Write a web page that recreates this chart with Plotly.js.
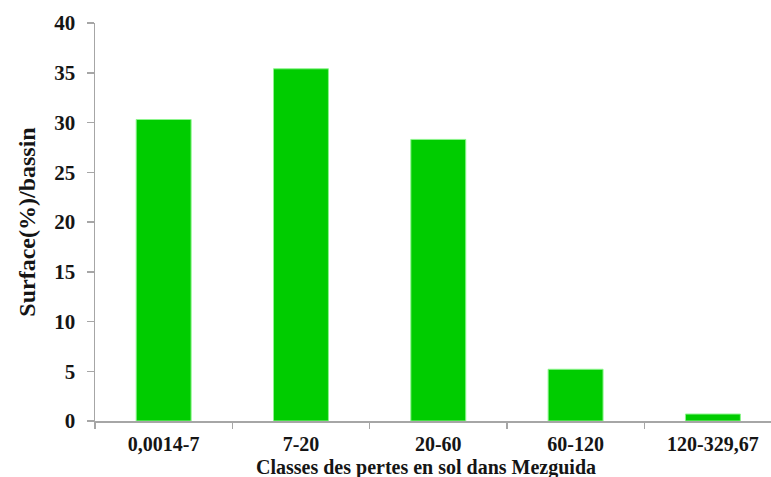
<!DOCTYPE html>
<html>
<head>
<meta charset="utf-8">
<script src="https://cdn.plot.ly/plotly-3.0.1.min.js"></script>
<style>html,body{margin:0;padding:0;background:#fff;}#chart{width:771px;height:477px;}</style>
</head>
<body>
<div id="chart"></div>
<script>
const categories = ["0,0014-7", "7-20", "20-60", "60-120", "120-329,67"];
const surfaces = [30.3, 35.4, 28.3, 5.2, 0.7];
const yTickValues = [0, 5, 10, 15, 20, 25, 30, 35, 40];

const fontFam = '"Liberation Serif", "Times New Roman", serif';

const trace = {
  type: 'bar',
  x: categories,
  y: surfaces,
  width: 0.4,
  marker: {color: '#00CC00', line: {color: '#8CF58C', width: 1}},
  hoverinfo: 'x+y'
};

const layout = {
  width: 771,
  height: 477,
  margin: {l: 95, r: 0, t: 23, b: 56, pad: 0},
  paper_bgcolor: '#ffffff',
  plot_bgcolor: '#ffffff',
  showlegend: false,
  font: {family: fontFam, color: '#151515'},
  xaxis: {
    type: 'category',
    range: [-0.5, 4.423],
    autorange: false,
    showgrid: false,
    zeroline: false,
    showline: true,
    linecolor: '#a6a6a6',
    linewidth: 1.5,
    ticks: 'outside',
    tickson: 'boundaries',
    ticklen: 6,
    tickcolor: '#a6a6a6',
    tickwidth: 1.5,
    tickfont: {family: fontFam, size: 20, weight: 'bold', color: '#151515'},
    ticklabelstandoff: 4
  },
  yaxis: {
    range: [0, 40],
    autorange: false,
    tickvals: yTickValues,
    ticktext: yTickValues.map(String),
    showgrid: false,
    zeroline: false,
    showline: true,
    linecolor: '#a6a6a6',
    linewidth: 1.5,
    ticks: 'outside',
    ticklen: 7,
    tickcolor: '#a6a6a6',
    tickwidth: 1.5,
    tickfont: {family: fontFam, size: 21, weight: 'bold', color: '#151515'},
    ticklabelstandoff: 7,
    title: {text: 'Surface(%)/bassin', font: {family: fontFam, size: 24, weight: 'bold', color: '#151515'}, standoff: 12}
  },
  annotations: [{
    text: 'Classes des pertes en sol dans Mezguida',
    xref: 'paper', yref: 'paper',
    x: 0.49, y: -0.118,
    xanchor: 'center', yanchor: 'middle',
    showarrow: false,
    font: {family: fontFam, size: 20, weight: 'bold', color: '#151515'}
  }]
};

Plotly.newPlot('chart', [trace], layout, {displayModeBar: false, staticPlot: true});
</script>
</body>
</html>
